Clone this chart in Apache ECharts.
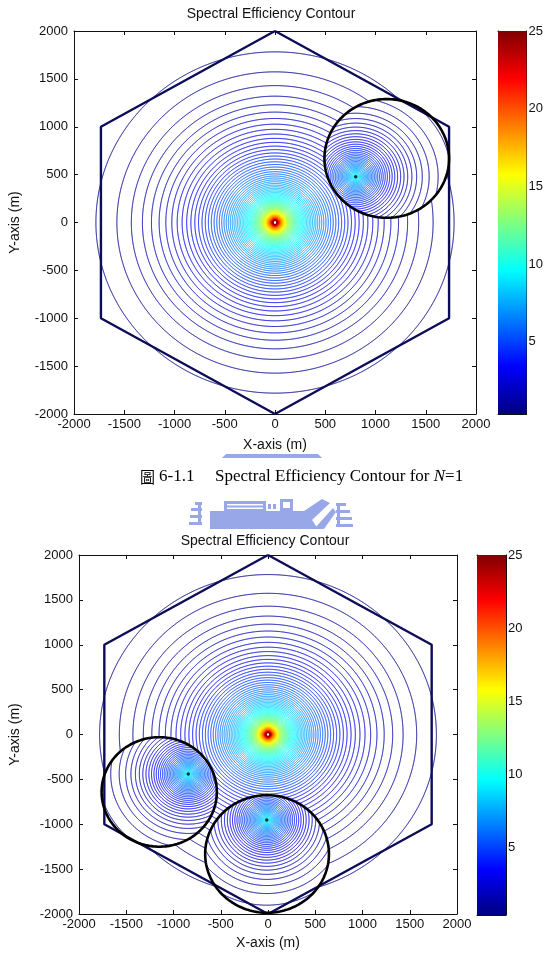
<!DOCTYPE html>
<html>
<head>
<meta charset="utf-8">
<script src="https://cdn.jsdelivr.net/npm/echarts@6/dist/echarts.min.js"></script>
<style>
html, body { margin: 0; padding: 0; background: #fff; }
#main { width: 546px; height: 971px; }
</style>
</head>
<body>
<div id="main"></div>
<script>
// ---- data ----
var axisRange = [-2000, 2000];            // m, both axes
var colorRange = [0.34, 25];              // colorbar min / max
var colorTicks = [5, 10, 15, 20, 25];
var contourLevels = [
  0.5, 0.75, 1, 1.25, 1.5, 1.75, 2, 2.25, 2.5, 2.75, 3, 3.25, 3.5, 3.75, 4, 4.25, 4.5, 4.75,
  5, 5.25, 5.5, 5.75, 6, 6.25, 6.5, 6.75, 7, 7.25, 7.5, 7.75, 8, 8.25, 8.5, 8.75, 9, 9.25, 9.5, 9.75,
  10, 10.25, 10.5, 10.75, 11, 11.25, 11.5, 11.75, 12, 12.25, 12.5, 12.75, 13, 13.25, 13.5, 13.75,
  14, 14.25, 14.5, 14.75, 15, 15.25, 15.5, 15.75, 16, 16.25, 16.5, 16.75, 17, 17.25, 17.5, 17.75,
  18, 18.25, 18.5, 18.75, 19, 19.25, 19.5, 19.75, 20, 20.25, 20.5, 20.75, 21, 21.25, 21.5, 21.75,
  22, 22.25, 22.5, 22.75, 23, 23.25, 23.5, 23.75, 24, 24.25, 24.5, 24.75];
var hexCell = [[0, 2000], [1732, 1000], [1732, -1000], [0, -2000], [-1732, -1000], [-1732, 1000], [0, 2000]];
var macroSite = [0, 0];
var macroPeak = 25;
var macroEdge = [1782, 0.5];   // outermost ring: radius (m), SE
var pathLossExp = 4;
var smallPeak = 10;
var smallCore = 157;           // m
// N=1
var smallSites1 = [[803, 479]];
var smallZones1 = [[1112, 669, 620]];        // cx, cy, radius
// N=2
var smallSites2 = [[-844, -440], [-13, -952]];
var smallZones2 = [[-1151, -640, 610], [-10, -1331, 655]];

var fontSans = 'Liberation Sans, Arial, sans-serif';
var chart = echarts.init(document.getElementById('main'));

function jet(t) {
  t = Math.max(0, Math.min(1, t));
  function c(v) { return Math.round(255 * Math.max(0, Math.min(1, v))); }
  return 'rgb(' + c(1.5 - Math.abs(4 * t - 3)) + ',' + c(1.5 - Math.abs(4 * t - 2)) + ',' + c(1.5 - Math.abs(4 * t - 1)) + ')';
}
function levelColor(v) { return jet((v - colorRange[0]) / (colorRange[1] - colorRange[0])); }

var logK = Math.log2(Math.pow(2, macroEdge[1]) - 1) + pathLossExp * Math.log2(macroEdge[0]);
function macroSE(x, y) {
  var r = Math.max(1, Math.hypot(x - macroSite[0], y - macroSite[1]));
  var snr = Math.pow(2, logK - pathLossExp * Math.log2(r));
  return Math.min(macroPeak, Math.log2(1 + snr));
}
function smallSE(site) {
  var top = Math.pow(2, smallPeak) - 1;
  return function (x, y) {
    var r = Math.hypot(x - site[0], y - site[1]);
    return Math.log2(1 + top * Math.pow(smallCore / (r + smallCore), pathLossExp));
  };
}

function sample(x0, x1, y0, y1, step, fn) {
  var nx = Math.round((x1 - x0) / step) + 1, ny = Math.round((y1 - y0) / step) + 1;
  var v = new Float64Array(nx * ny);
  for (var j = 0; j < ny; j++)
    for (var i = 0; i < nx; i++) v[j * nx + i] = fn(x0 + i * step, y0 + j * step);
  return { x0: x0, y0: y0, step: step, nx: nx, ny: ny, v: v };
}

// marching squares -> segments per level
function isolines(g, levels) {
  var out = levels.map(function () { return []; });
  var nx = g.nx, v = g.v, s = g.step;
  for (var j = 0; j < g.ny - 1; j++) {
    var y0 = g.y0 + j * s, y1 = y0 + s;
    for (var i = 0; i < nx - 1; i++) {
      var a = v[j * nx + i], b = v[j * nx + i + 1], c = v[(j + 1) * nx + i + 1], d = v[(j + 1) * nx + i];
      var lo = Math.min(a, b, c, d), hi = Math.max(a, b, c, d);
      if (hi <= levels[0]) continue;
      var x0 = g.x0 + i * s, x1 = x0 + s;
      for (var k = 0; k < levels.length; k++) {
        var L = levels[k];
        if (L <= lo) continue;
        if (L > hi) break;
        var ab = (a < L) !== (b < L), bc = (b < L) !== (c < L), dc = (d < L) !== (c < L), ad = (a < L) !== (d < L);
        var pB = ab ? [x0 + (L - a) / (b - a) * s, y0] : null;
        var pR = bc ? [x1, y0 + (L - b) / (c - b) * s] : null;
        var pT = dc ? [x0 + (L - d) / (c - d) * s, y1] : null;
        var pL = ad ? [x0, y0 + (L - a) / (d - a) * s] : null;
        if (ab && bc && dc && ad) {
          var mid = (a + b + c + d) / 4;
          if ((a >= L) === (mid >= L)) { out[k].push([pB, pR], [pT, pL]); }
          else { out[k].push([pB, pL], [pR, pT]); }
        } else {
          var pts = [pB, pR, pT, pL].filter(Boolean);
          if (pts.length === 2) out[k].push(pts);
        }
      }
    }
  }
  return out;
}

function key(p) { return p[0].toFixed(2) + '_' + p[1].toFixed(2); }
function stitch(segs) {
  var ends = {}, keys = [];
  segs.forEach(function (sg, k) {
    var k0 = key(sg[0]), k1 = key(sg[1]);
    keys.push([k0, k1]);
    (ends[k0] || (ends[k0] = [])).push(k);
    (ends[k1] || (ends[k1] = [])).push(k);
  });
  var used = new Uint8Array(segs.length), lines = [];
  function grow(line, lineKey) {
    while (true) {
      var list = ends[lineKey], next = -1;
      for (var q = 0; q < list.length; q++) if (!used[list[q]]) { next = list[q]; break; }
      if (next < 0) return;
      used[next] = 1;
      if (keys[next][0] === lineKey) { line.push(segs[next][1]); lineKey = keys[next][1]; }
      else { line.push(segs[next][0]); lineKey = keys[next][0]; }
    }
  }
  for (var k = 0; k < segs.length; k++) {
    if (used[k]) continue;
    used[k] = 1;
    var line = [segs[k][0], segs[k][1]];
    grow(line, keys[k][1]);
    line.reverse();
    grow(line, key(line[line.length - 1]));
    lines.push(line);
  }
  return lines;
}

function inZone(p, z) { var dx = p[0] - z[0], dy = p[1] - z[1]; return dx * dx + dy * dy < z[2] * z[2]; }
function midOf(sg) { return [(sg[0][0] + sg[1][0]) / 2, (sg[0][1] + sg[1][1]) / 2]; }
function circlePts(z) {
  var pts = [];
  for (var a = 0; a <= 360; a += 2) pts.push([z[0] + z[2] * Math.cos(a * Math.PI / 180), z[1] + z[2] * Math.sin(a * Math.PI / 180)]);
  return pts;
}

var macroIso = isolines(sample(axisRange[0], axisRange[1], axisRange[0], axisRange[1], 5, macroSE), contourLevels);

function plotSeries(p, sites, zones) {
  var items = [];
  macroIso.forEach(function (segs, k) {
    var kept = segs.filter(function (sg) { var m = midOf(sg); return !zones.some(function (z) { return inZone(m, z); }); });
    stitch(kept).forEach(function (line) { items.push({ coords: line, lineStyle: { color: levelColor(contourLevels[k]) } }); });
  });
  zones.forEach(function (z, n) {
    var st = 5;
    var x0 = Math.max(axisRange[0], Math.floor((z[0] - z[2]) / st) * st - st);
    var x1 = Math.min(axisRange[1], Math.ceil((z[0] + z[2]) / st) * st + st);
    var y0 = Math.max(axisRange[0], Math.floor((z[1] - z[2]) / st) * st - st);
    var y1 = Math.min(axisRange[1], Math.ceil((z[1] + z[2]) / st) * st + st);
    var iso = isolines(sample(x0, x1, y0, y1, st, smallSE(sites[n])), contourLevels);
    iso.forEach(function (segs, k) {
      var kept = segs.filter(function (sg) { return inZone(midOf(sg), z); });
      stitch(kept).forEach(function (line) { items.push({ coords: line, lineStyle: { color: levelColor(contourLevels[k]) } }); });
    });
  });
  var list = [{
    type: 'lines', coordinateSystem: 'cartesian2d', xAxisIndex: 2 * p, yAxisIndex: 2 * p,
    polyline: true, silent: true, animation: false, z: 2,
    lineStyle: { width: 1, opacity: 1 }, data: items
  }, {
    type: 'line', xAxisIndex: 2 * p, yAxisIndex: 2 * p, data: hexCell, symbol: 'none', silent: true,
    animation: false, z: 3, lineStyle: { color: '#0c0c58', width: 2.4 }
  }];
  zones.forEach(function (z) {
    list.push({
      type: 'line', xAxisIndex: 2 * p, yAxisIndex: 2 * p, data: circlePts(z), symbol: 'none', silent: true,
      animation: false, z: 4, lineStyle: { color: '#000', width: 2.6 }
    });
  });
  list.push({
    type: 'scatter', xAxisIndex: 2 * p, yAxisIndex: 2 * p, data: sites, symbolSize: 3.5, silent: true,
    animation: false, z: 5, itemStyle: { color: '#000' }
  });
  list.push({
    type: 'scatter', xAxisIndex: 2 * p, yAxisIndex: 2 * p, data: [macroSite], symbolSize: 2, silent: true,
    animation: false, z: 5, itemStyle: { color: '#fff' }
  });
  return list;
}

function colorbarSeries(p) {
  var stops = [0, 0.125, 0.375, 0.625, 0.875, 1].map(function (t) { return { offset: t, color: jet(t) }; });
  return {
    type: 'custom', xAxisIndex: 4 + 2 * p, yAxisIndex: 4 + 2 * p, silent: true, animation: false,
    data: [[0, colorRange[0]]],
    renderItem: function (params, api) {
      var p0 = api.coord([0, colorRange[0]]), p1 = api.coord([1, colorRange[1]]);
      return {
        type: 'rect',
        shape: { x: p0[0], y: p1[1], width: p1[0] - p0[0], height: p0[1] - p1[1] },
        style: { fill: new echarts.graphic.LinearGradient(0, 1, 0, 0, stops) }
      };
    }
  };
}

var boxes = [
  { left: 66, top: 31, width: 410, height: 383, nameGapX: 24.5, nameGapY: 52, font: 13 },
  { left: 73, top: 555, width: 384, height: 359, nameGapX: 22.5, nameGapY: 57, font: 13 }
];
var bars = [
  { left: 498, top: 31, width: 30, height: 383 },
  { left: 477, top: 555, width: 29, height: 360 }
];

var lineStyleBlack = { color: '#111', width: 1 };
var grids = [], xAxes = [], yAxes = [];
boxes.forEach(function (b) {
  grids.push({ left: b.left, top: b.top, width: b.width, height: b.height });
});
bars.forEach(function (b) {
  grids.push({ left: b.left, top: b.top, width: b.width, height: b.height });
});
function plainLabel(v) { return String(v); }
boxes.forEach(function (b, p) {
  var common = {
    type: 'value', gridIndex: p, min: axisRange[0], max: axisRange[1], interval: 500,
    splitLine: { show: false }, axisLine: { onZero: false, lineStyle: lineStyleBlack },
    axisTick: { inside: true, length: 4, lineStyle: lineStyleBlack }
  };
  xAxes.push(Object.assign({}, common, {
    position: 'bottom', name: 'X-axis (m)', nameLocation: 'middle', nameGap: b.nameGapX,
    nameTextStyle: { fontSize: 14, fontFamily: fontSans, color: '#111' },
    axisLabel: { formatter: plainLabel, fontSize: b.font, fontFamily: fontSans, color: '#111', margin: 4 }
  }));
  xAxes.push(Object.assign({}, common, { position: 'top', axisLabel: { show: false } }));
  yAxes.push(Object.assign({}, common, {
    position: 'left', name: 'Y-axis (m)', nameLocation: 'middle', nameGap: b.nameGapY,
    nameTextStyle: { fontSize: 14, fontFamily: fontSans, color: '#111' },
    axisLabel: { formatter: plainLabel, fontSize: b.font, fontFamily: fontSans, color: '#111', margin: 6 }
  }));
  yAxes.push(Object.assign({}, common, { position: 'right', axisLabel: { show: false } }));
});
bars.forEach(function (b, p) {
  var gi = 2 + p;
  var xc = { type: 'value', gridIndex: gi, min: 0, max: 1, splitLine: { show: false }, axisTick: { show: false },
    axisLabel: { show: false }, axisLine: { onZero: false, lineStyle: lineStyleBlack } };
  xAxes.push(Object.assign({}, xc, { position: 'bottom' }));
  xAxes.push(Object.assign({}, xc, { position: 'top' }));
  var yc = { type: 'value', gridIndex: gi, min: colorRange[0], max: colorRange[1], splitLine: { show: false },
    axisLine: { onZero: false, lineStyle: lineStyleBlack },
    axisTick: { inside: true, length: 3, customValues: colorTicks, lineStyle: lineStyleBlack } };
  yAxes.push(Object.assign({}, yc, {
    position: 'right',
    axisLabel: { customValues: colorTicks, formatter: plainLabel, fontSize: 13, fontFamily: fontSans, color: '#111', margin: 2 }
  }));
  yAxes.push(Object.assign({}, yc, { position: 'left', axisLabel: { show: false } }));
});

var series = [].concat(plotSeries(0, smallSites1, smallZones1), plotSeries(1, smallSites2, smallZones2),
  [colorbarSeries(0), colorbarSeries(1)]);

// watermark (light blue logo fragments between the two figures)
var wm = '#97a7e8';
function wmRect(x, y, w, h, fill) {
  return { type: 'rect', silent: true, z: 0, shape: { x: x, y: y, width: w, height: h }, style: { fill: fill || wm } };
}
function wmPoly(pts, fill) {
  return { type: 'polygon', silent: true, z: 0, shape: { points: pts }, style: { fill: fill || wm } };
}
var watermark = [
  wmPoly([[226, 454], [318, 454], [322, 458], [222, 458]]),
  wmRect(195, 502, 7, 3), wmRect(191, 508, 11, 3), wmRect(190, 515, 12, 3), wmRect(189, 522, 13, 3),
  wmRect(198, 502, 3, 23),
  wmRect(210, 511, 102, 18),
  wmRect(224, 501, 42, 10),
  wmRect(227, 504, 36, 1.5, '#fff'), wmRect(227, 507.5, 36, 1.5, '#fff'),
  wmRect(268, 504, 3, 5), wmRect(273, 504, 3, 5),
  wmRect(280, 499, 13, 12), wmRect(283, 502, 7, 6, '#fff'),
  wmPoly([[304, 511], [322, 499], [330, 503], [312, 520], [318, 529], [300, 529]]),
  wmPoly([[314, 529], [333, 508], [336, 512], [324, 529]]),
  wmRect(336, 503, 10, 3), wmRect(336, 510, 14, 3), wmRect(336, 517, 16, 3), wmRect(336, 524, 17, 3),
  wmRect(337, 503, 3, 23)
];

var textBase = { fontFamily: fontSans, fontSize: 14, fill: '#111', align: 'center', textAlign: 'center', verticalAlign: 'middle', textVerticalAlign: 'middle' };
function label(x, y, text, extra) {
  return { type: 'text', silent: true, z: 10, x: x, y: y, style: Object.assign({}, textBase, { text: text }, extra || {}) };
}
var serif = 'Liberation Serif, Times New Roman, Noto Sans CJK TC, serif';
var graphics = watermark.concat([
  label(271, 14, 'Spectral Efficiency Contour'),
  label(265, 541, 'Spectral Efficiency Contour'),
  label(140, 477, '圖', { fontFamily: 'Noto Sans CJK TC, serif', fontSize: 15, align: 'left', textAlign: 'left', fill: '#000' }),
  label(159, 477, '6-1.1', { fontFamily: serif, fontSize: 17, align: 'left', textAlign: 'left', fill: '#000' }),
  {
    type: 'text', silent: true, z: 10, x: 215, y: 477,
    style: {
      text: '{a|Spectral Efficiency Contour for }{i|N}{a|=1}',
      align: 'left', textAlign: 'left', verticalAlign: 'middle', textVerticalAlign: 'middle',
      rich: {
        a: { fontFamily: serif, fontSize: 17, fill: '#000', color: '#000' },
        i: { fontFamily: serif, fontSize: 17, fontStyle: 'italic', fill: '#000', color: '#000' }
      }
    }
  }
]);

chart.setOption({
  animation: false,
  backgroundColor: '#fff',
  grid: grids,
  xAxis: xAxes,
  yAxis: yAxes,
  series: series,
  graphic: graphics
});
</script>
</body>
</html>
